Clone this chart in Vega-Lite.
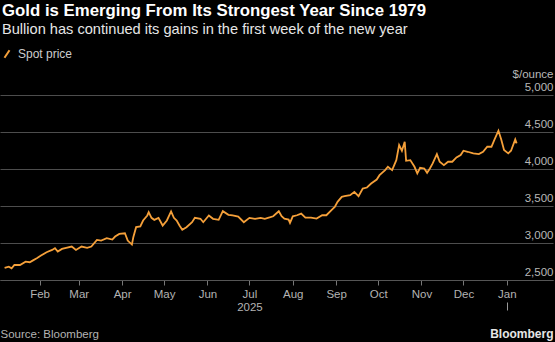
{
  "$schema": "https://vega.github.io/schema/vega-lite/v6.json",
  "width": 553,
  "height": 185,
  "autosize": "none",
  "padding": {"left": 0, "top": 95, "right": 2, "bottom": 62},
  "background": "#000000",
  "config": {"view": {"stroke": null}, "font": "Liberation Sans"},
  "title": {
    "text": "Gold is Emerging From Its Strongest Year Since 1979",
    "subtitle": "Bullion has continued its gains in the first week of the new year",
    "anchor": "start",
    "frame": "group",
    "dx": 2,
    "font": "Liberation Sans",
    "fontSize": 16.8,
    "fontWeight": "bold",
    "color": "#ffffff",
    "subtitleFont": "Liberation Sans",
    "subtitleFontSize": 14.6,
    "subtitleColor": "#e6e6e6",
    "subtitlePadding": 3,
    "offset": 11
  },
  "datasets": {
    "gold": [
      {"date": "2025-01-07", "price": 2663},
      {"date": "2025-01-10", "price": 2680},
      {"date": "2025-01-12", "price": 2658},
      {"date": "2025-01-14", "price": 2703},
      {"date": "2025-01-18", "price": 2703},
      {"date": "2025-01-22", "price": 2748},
      {"date": "2025-01-25", "price": 2740},
      {"date": "2025-01-27", "price": 2762},
      {"date": "2025-01-30", "price": 2794},
      {"date": "2025-02-02", "price": 2830},
      {"date": "2025-02-06", "price": 2875},
      {"date": "2025-02-10", "price": 2906},
      {"date": "2025-02-12", "price": 2929},
      {"date": "2025-02-14", "price": 2884},
      {"date": "2025-02-17", "price": 2920},
      {"date": "2025-02-20", "price": 2934},
      {"date": "2025-02-24", "price": 2952},
      {"date": "2025-02-27", "price": 2906},
      {"date": "2025-03-03", "price": 2952},
      {"date": "2025-03-07", "price": 2934},
      {"date": "2025-03-10", "price": 2952},
      {"date": "2025-03-14", "price": 3042},
      {"date": "2025-03-17", "price": 3033},
      {"date": "2025-03-21", "price": 3065},
      {"date": "2025-03-25", "price": 3046},
      {"date": "2025-03-27", "price": 3087},
      {"date": "2025-03-30", "price": 3123},
      {"date": "2025-04-03", "price": 3132},
      {"date": "2025-04-05", "price": 3033},
      {"date": "2025-04-08", "price": 2979},
      {"date": "2025-04-09", "price": 3078},
      {"date": "2025-04-11", "price": 3214},
      {"date": "2025-04-14", "price": 3223},
      {"date": "2025-04-16", "price": 3304},
      {"date": "2025-04-19", "price": 3372},
      {"date": "2025-04-20", "price": 3417},
      {"date": "2025-04-22", "price": 3340},
      {"date": "2025-04-24", "price": 3313},
      {"date": "2025-04-27", "price": 3340},
      {"date": "2025-04-30", "price": 3236},
      {"date": "2025-05-03", "price": 3304},
      {"date": "2025-05-06", "price": 3426},
      {"date": "2025-05-08", "price": 3340},
      {"date": "2025-05-10", "price": 3304},
      {"date": "2025-05-12", "price": 3236},
      {"date": "2025-05-14", "price": 3178},
      {"date": "2025-05-17", "price": 3214},
      {"date": "2025-05-21", "price": 3281},
      {"date": "2025-05-23", "price": 3340},
      {"date": "2025-05-27", "price": 3327},
      {"date": "2025-05-29", "price": 3281},
      {"date": "2025-06-02", "price": 3372},
      {"date": "2025-06-05", "price": 3327},
      {"date": "2025-06-09", "price": 3313},
      {"date": "2025-06-12", "price": 3430},
      {"date": "2025-06-16", "price": 3381},
      {"date": "2025-06-19", "price": 3372},
      {"date": "2025-06-23", "price": 3358},
      {"date": "2025-06-27", "price": 3281},
      {"date": "2025-07-01", "price": 3340},
      {"date": "2025-07-05", "price": 3327},
      {"date": "2025-07-09", "price": 3340},
      {"date": "2025-07-12", "price": 3327},
      {"date": "2025-07-16", "price": 3349},
      {"date": "2025-07-18", "price": 3361},
      {"date": "2025-07-22", "price": 3429},
      {"date": "2025-07-24", "price": 3361},
      {"date": "2025-07-26", "price": 3330},
      {"date": "2025-07-29", "price": 3316},
      {"date": "2025-07-30", "price": 3271},
      {"date": "2025-08-01", "price": 3361},
      {"date": "2025-08-04", "price": 3375},
      {"date": "2025-08-07", "price": 3397},
      {"date": "2025-08-10", "price": 3343},
      {"date": "2025-08-14", "price": 3343},
      {"date": "2025-08-18", "price": 3330},
      {"date": "2025-08-22", "price": 3375},
      {"date": "2025-08-25", "price": 3375},
      {"date": "2025-08-29", "price": 3452},
      {"date": "2025-08-31", "price": 3488},
      {"date": "2025-09-02", "price": 3556},
      {"date": "2025-09-05", "price": 3623},
      {"date": "2025-09-07", "price": 3632},
      {"date": "2025-09-11", "price": 3646},
      {"date": "2025-09-14", "price": 3691},
      {"date": "2025-09-17", "price": 3632},
      {"date": "2025-09-20", "price": 3736},
      {"date": "2025-09-23", "price": 3750},
      {"date": "2025-09-26", "price": 3804},
      {"date": "2025-09-30", "price": 3858},
      {"date": "2025-10-02", "price": 3917},
      {"date": "2025-10-06", "price": 3985},
      {"date": "2025-10-08", "price": 4030},
      {"date": "2025-10-11", "price": 3985},
      {"date": "2025-10-14", "price": 4120},
      {"date": "2025-10-16", "price": 4324},
      {"date": "2025-10-18", "price": 4247},
      {"date": "2025-10-20", "price": 4369},
      {"date": "2025-10-21", "price": 4111},
      {"date": "2025-10-24", "price": 4120},
      {"date": "2025-10-27", "price": 4030},
      {"date": "2025-10-29", "price": 3940},
      {"date": "2025-10-31", "price": 4016},
      {"date": "2025-11-03", "price": 4007},
      {"date": "2025-11-05", "price": 3949},
      {"date": "2025-11-07", "price": 4007},
      {"date": "2025-11-09", "price": 4075},
      {"date": "2025-11-12", "price": 4201},
      {"date": "2025-11-14", "price": 4098},
      {"date": "2025-11-17", "price": 4052},
      {"date": "2025-11-20", "price": 4098},
      {"date": "2025-11-23", "price": 4098},
      {"date": "2025-11-26", "price": 4156},
      {"date": "2025-11-29", "price": 4188},
      {"date": "2025-12-01", "price": 4247},
      {"date": "2025-12-04", "price": 4233},
      {"date": "2025-12-08", "price": 4211},
      {"date": "2025-12-12", "price": 4201},
      {"date": "2025-12-15", "price": 4233},
      {"date": "2025-12-18", "price": 4301},
      {"date": "2025-12-21", "price": 4301},
      {"date": "2025-12-23", "price": 4391},
      {"date": "2025-12-26", "price": 4518},
      {"date": "2025-12-28", "price": 4400},
      {"date": "2025-12-30", "price": 4256},
      {"date": "2026-01-02", "price": 4211},
      {"date": "2026-01-04", "price": 4247},
      {"date": "2026-01-07", "price": 4400},
      {"date": "2026-01-08", "price": 4346}
    ]
  },
  "layer": [
    {
      "data": {"name": "gold"},
      "mark": {"type": "line", "strokeWidth": 1.8, "interpolate": "linear"},
      "encoding": {
        "x": {
          "field": "date",
          "type": "temporal",
          "scale": {
            "type": "utc",
            "domain": [
              {"year": 2025, "month": 1, "date": 3, "hours": 17, "utc": true},
              {"year": 2026, "month": 2, "date": 3, "hours": 0, "utc": true}
            ]
          },
          "axis": {
            "orient": "bottom",
            "grid": false,
            "values": [
              {"year": 2025, "month": 2, "date": 1, "utc": true},
              {"year": 2025, "month": 3, "date": 1, "utc": true},
              {"year": 2025, "month": 4, "date": 1, "utc": true},
              {"year": 2025, "month": 5, "date": 1, "utc": true},
              {"year": 2025, "month": 6, "date": 1, "utc": true},
              {"year": 2025, "month": 7, "date": 1, "utc": true},
              {"year": 2025, "month": 8, "date": 1, "utc": true},
              {"year": 2025, "month": 9, "date": 1, "utc": true},
              {"year": 2025, "month": 10, "date": 1, "utc": true},
              {"year": 2025, "month": 11, "date": 1, "utc": true},
              {"year": 2025, "month": 12, "date": 1, "utc": true},
              {"year": 2026, "month": 1, "date": 1, "utc": true}
            ],
            "labelExpr": "utcmonth(datum.value) == 6 ? ['Jul', '2025'] : utcFormat(datum.value, '%b')",
            "labelColor": "#b3b3b3",
            "labelFontSize": 11.5,
            "labelLineHeight": 13,
            "labelPadding": 3,
            "labelFlush": false,
            "labelOverlap": false,
            "tickColor": "#777777",
            "tickSize": 5,
            "tickWidth": 1,
            "domainColor": "#555555",
            "title": "Source: Bloomberg",
            "titleColor": "#b3b3b3",
            "titleFontSize": 11.5,
            "titleFontWeight": "normal",
            "titleAnchor": "start",
            "titleAlign": "left",
            "titleBaseline": "alphabetic",
            "titleX": 0,
            "titleY": 57
          }
        },
        "y": {
          "field": "price",
          "type": "quantitative",
          "scale": {"domain": [2500, 5000]},
          "axis": {
            "orient": "right",
            "values": [2500, 3000, 3500, 4000, 4500, 5000],
            "labelExpr": "format(datum.value, ',')",
            "ticks": false,
            "domain": false,
            "labelAlign": "right",
            "labelBaseline": "bottom",
            "labelPadding": 0,
            "labelOffset": -3,
            "labelColor": "#b8b8b8",
            "labelFontSize": 11.5,
            "gridColor": "#4d4d4d",
            "gridWidth": 1,
            "title": "$/ounce",
            "titleAngle": 0,
            "titleAlign": "right",
            "titleBaseline": "alphabetic",
            "titleX": 0,
            "titleY": -18,
            "titleColor": "#b8b8b8",
            "titleFontSize": 11.5,
            "titleFontWeight": "normal"
          }
        },
        "color": {
          "datum": "Spot price",
          "scale": {"range": ["#f5a03a"]},
          "legend": {
            "title": null,
            "orient": "none",
            "legendX": 1,
            "legendY": -47,
            "symbolType": "M-0.6,0.9L0.6,-0.9",
            "symbolSize": 70,
            "symbolStrokeWidth": 2,
            "labelColor": "#cccccc",
            "labelFontSize": 12,
            "labelFont": "Liberation Sans",
            "labelOffset": 5
          }
        }
      }
    },
    {
      "data": {"values": []},
      "mark": {"type": "rule"},
      "encoding": {
        "x": {
          "field": "date",
          "type": "temporal",
          "axis": {
            "orient": "bottom",
            "offset": 22,
            "values": [{"year": 2026, "month": 1, "date": 1, "utc": true}],
            "labels": false,
            "ticks": true,
            "tickSize": 8,
            "tickColor": "#999999",
            "tickWidth": 1,
            "domain": false,
            "grid": false,
            "title": "Bloomberg",
            "titleColor": "#e6e6e6",
            "titleFontSize": 12,
            "titleFontWeight": "bold",
            "titleAnchor": "end",
            "titleAlign": "right",
            "titleBaseline": "alphabetic",
            "titleX": 553,
            "titleY": 35
          }
        }
      }
    }
  ],
  "resolve": {"axis": {"x": "independent"}}
}
